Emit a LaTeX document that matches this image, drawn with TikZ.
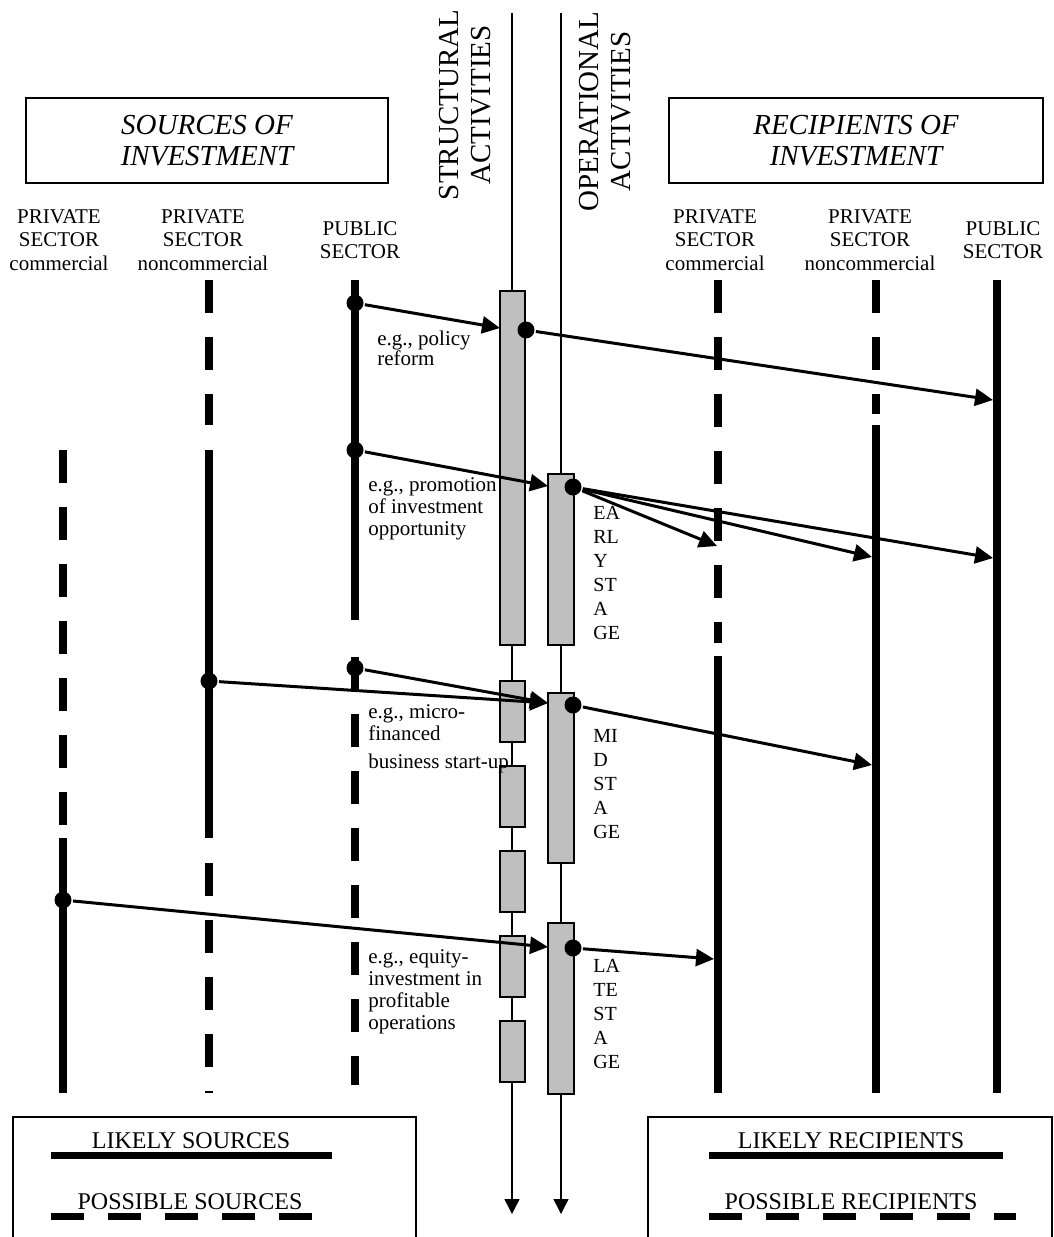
\documentclass[tikz,border=0pt]{standalone}
\usepackage{fontspec}
\setmainfont{Liberation Serif}
\usetikzlibrary{arrows.meta}
\begin{document}
\begin{tikzpicture}[x=0.5pt, y=-0.5pt,
    lane/.style={line width=4pt},
    possible/.style={line width=4pt, dash pattern=on 16.5pt off 12pt},
    flow/.style={line width=1.5pt, -{Triangle[length=9pt, width=8.5pt]}},
    track/.style={line width=0.75pt, -{Triangle[length=7.5pt, width=7.5pt]}},
    dot/.style={circle, fill, inner sep=0pt, minimum size=8.5pt},
    actbox/.style={draw, fill=lightgray, line width=1pt, inner sep=0pt},
    header/.style={draw, line width=1pt, minimum height=42.5pt, align=center, font=\fontsize{14.5}{15.75}\selectfont\itshape},
    sector/.style={align=center, inner sep=0pt, font=\fontsize{10.5}{11.75}\selectfont},
    activity/.style={rotate=90, align=center, inner sep=0pt, font=\fontsize{14.5}{16}\selectfont},
    note/.style={align=left, anchor=north west, inner sep=0pt, font=\fontsize{10.5}{11}\selectfont},
    stage/.style={align=left, anchor=north west, inner sep=0pt, font=\fontsize{10}{12}\selectfont},
    legend/.style={anchor=base, inner sep=0pt, font=\fontsize{12}{14}\selectfont}]
    \useasboundingbox (0,0) rectangle (1054,1237);

    \node[header, minimum width=181pt] (sources) at (207,140.5) {SOURCES OF\\INVESTMENT};
    \node[header, minimum width=187pt] (recipients) at (856,140.5) {RECIPIENTS OF\\INVESTMENT};

    \node[activity] (structural) at (465,105) {STRUCTURAL\\ACTIVITIES};
    \node[activity] (operational) at (605,111.5) {OPERATIONAL\\ACTIVITIES};

    \node[sector] (srccom) at (59,240) {PRIVATE\\SECTOR\\commercial};
    \node[sector] (srcnon) at (203,240) {PRIVATE\\SECTOR\\noncommercial};
    \node[sector] (srcpub) at (360,240) {PUBLIC\\SECTOR};
    \node[sector] (reccom) at (715,240) {PRIVATE\\SECTOR\\commercial};
    \node[sector] (recnon) at (870,240) {PRIVATE\\SECTOR\\noncommercial};
    \node[sector] (recpub) at (1003,240) {PUBLIC\\SECTOR};

    \draw[possible] (63,450) -- (63,825);
    \draw[lane] (63,838) -- (63,1093);
    \draw[possible] (209,280) -- (209,425);
    \draw[lane] (209,450) -- (209,838);
    \draw[possible] (209,863) -- (209,1093);
    \draw[lane] (355,280) -- (355,620);
    \draw[possible] (355,657) -- (355,1085);
    \draw[possible] (718,280) -- (718,643);
    \draw[lane] (718,656) -- (718,1093);
    \draw[possible] (876,280) -- (876,414);
    \draw[lane] (876,425) -- (876,1093);
    \draw[lane] (997,280) -- (997,1093);

    \coordinate (strtop) at (512,13);
    \coordinate (strend) at (512,1214);
    \coordinate (optop) at (561,13);
    \coordinate (opend) at (561,1214);
    \draw[track] (strtop) -- (strend);
    \draw[track] (optop) -- (opend);

    \node[actbox, minimum width=12.5pt, minimum height=177pt] (strmain) at (512.5,468) {};
    \node[actbox, minimum width=12.5pt, minimum height=30.5pt] (str1) at (512.5,711.5) {};
    \node[actbox, minimum width=12.5pt, minimum height=30.5pt] (str2) at (512.5,796.5) {};
    \node[actbox, minimum width=12.5pt, minimum height=30.5pt] (str3) at (512.5,881) {};
    \node[actbox, minimum width=12.5pt, minimum height=30.5pt] (str4) at (512.5,966.5) {};
    \node[actbox, minimum width=12.5pt, minimum height=30.5pt] (str5) at (512.5,1051.5) {};
    \node[actbox, minimum width=13pt, minimum height=85.5pt] (early) at (561,559.5) {};
    \node[actbox, minimum width=13pt, minimum height=85pt] (mid) at (561,778) {};
    \node[actbox, minimum width=13pt, minimum height=85.5pt] (late) at (561,1008.5) {};

    \node[stage] (earlytext) at (593,506) {EA\\RL\\Y\\ST\\A\\GE};
    \node[stage] (midtext) at (593,729) {MI\\D\\ST\\A\\GE};
    \node[stage] (latetext) at (593,959) {LA\\TE\\ST\\A\\GE};

    \node[note, font=\fontsize{10.5}{10}\selectfont] (policy) at (377,331) {e.g., policy\\reform};
    \node[note] (promotion) at (368,477) {e.g., promotion\\of investment\\opportunity};
    \node[note] (micro) at (368,704) {e.g., micro-\\financed\\[3pt]business start-up};
    \node[note] (equity) at (368,949) {e.g., equity-\\investment in\\profitable\\operations};

    \coordinate (strin) at (500,328);
    \coordinate (earlyin) at (548,486);
    \coordinate (midin) at (548,703);
    \coordinate (latein) at (548,947);
    \coordinate (pubtop) at (993,400);
    \coordinate (comearly) at (717,546);
    \coordinate (nonearly) at (872,557);
    \coordinate (pubearly) at (993,558);
    \coordinate (nonmid) at (872,765);
    \coordinate (comlate) at (714,959);

    \draw[flow] (355,303) node[dot] (pubpolicy) {} (pubpolicy) -- (strin);
    \draw[flow] (355,450) node[dot] (pubpromo) {} (pubpromo) -- (earlyin);
    \draw[flow] (355,668) node[dot] (pubmicro) {} (pubmicro) -- (midin);
    \draw[flow] (209,681) node[dot] (nonmicro) {} (nonmicro) -- (midin);
    \draw[flow] (63,900) node[dot] (comequity) {} (comequity) -- (latein);
    \draw[flow] (526,330) node[dot] (strout) {} (strout) -- (pubtop);
    \draw[flow] (573,487) node[dot] (earlyout) {} (earlyout) -- (comearly);
    \draw[flow] (earlyout) -- (nonearly);
    \draw[flow] (earlyout) -- (pubearly);
    \draw[flow] (573,705) node[dot] (midout) {} (midout) -- (nonmid);
    \draw[flow] (573,948) node[dot] (lateout) {} (lateout) -- (comlate);

    \draw[line width=1pt] (13,1240) -- (13,1117) -- (416,1117) -- (416,1240);
    \draw[line width=1pt] (648,1240) -- (648,1117) -- (1052,1117) -- (1052,1240);
    \node[legend] (likelysrc) at (191,1148) {LIKELY SOURCES};
    \node[legend] (possiblesrc) at (190,1209) {POSSIBLE SOURCES};
    \node[legend] (likelyrec) at (851,1148) {LIKELY RECIPIENTS};
    \node[legend] (possiblerec) at (851,1209) {POSSIBLE RECIPIENTS};
    \draw[line width=3.5pt] (51,1155) -- (332,1155);
    \draw[possible, line width=3.5pt] (51,1216) -- (313,1216);
    \draw[line width=3.5pt] (709,1155) -- (1003,1155);
    \draw[possible, line width=3.5pt] (709,1216) -- (1016,1216);
\end{tikzpicture}
\end{document}
